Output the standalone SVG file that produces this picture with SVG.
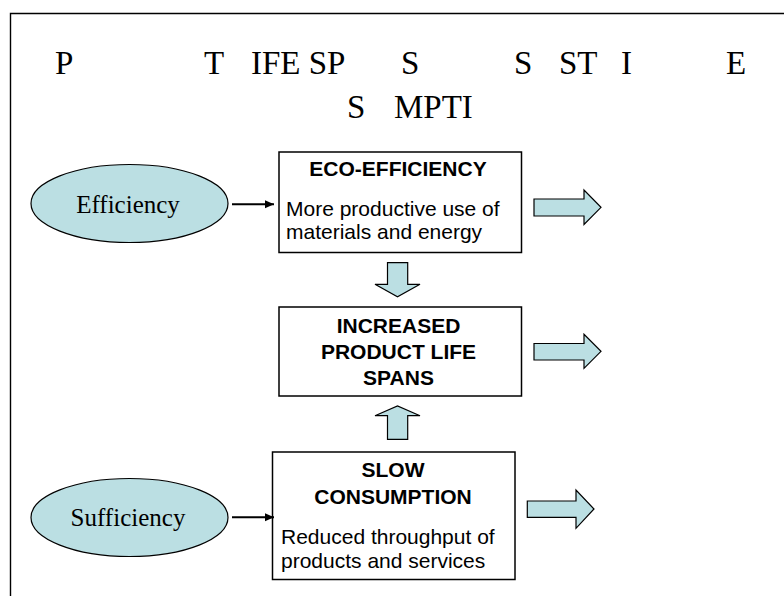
<svg xmlns="http://www.w3.org/2000/svg" width="784" height="596" viewBox="0 0 784 596">
<style>
.serif{font-family:"Liberation Serif","Times New Roman",serif;fill:#000}
.sans{font-family:"Liberation Sans",Arial,sans-serif;fill:#000}
.title{font-size:33px}
.oval{fill:#BBDFE3;stroke:#000;stroke-width:1.2}
.box{fill:#fff;stroke:#000;stroke-width:1.5}
.blk{fill:#BBDFE3;stroke:#000;stroke-width:1.2;stroke-linejoin:miter}
.hd{font-size:21px;font-weight:bold;text-anchor:middle}
.bd{font-size:21px}
.ov{font-size:25px;text-anchor:middle}
.conn{stroke:#000;stroke-width:2;fill:none}
</style>
<defs>
<marker id="ah" markerWidth="10" markerHeight="10" refX="9" refY="5" orient="auto" markerUnits="userSpaceOnUse">
<path d="M0,1 L9,5 L0,9 Z" fill="#000"/>
</marker>
</defs>
<rect width="784" height="596" fill="#fff"/>
<path d="M10.5,596 V13.5 H784" fill="none" stroke="#000" stroke-width="1.4"/>
<g id="title" class="serif title">
<text x="55" y="74">P</text>
<text x="204" y="74">T</text>
<text x="251" y="74">IFE SP</text>
<text x="401" y="74">S</text>
<text x="514" y="74">S</text>
<text x="559" y="74">ST</text>
<text x="621" y="74">I</text>
<text x="726" y="74">E</text>
<text x="347" y="118">S</text>
<text x="394" y="118">MPTI</text>
</g>
<g id="efficiency">
<ellipse class="oval" cx="129.5" cy="203.5" rx="98.5" ry="39"/>
<text class="serif ov" x="128" y="213">Efficiency</text>
</g>
<g id="sufficiency">
<ellipse class="oval" cx="129.5" cy="517.5" rx="98.5" ry="39"/>
<text class="serif ov" x="128" y="526">Sufficiency</text>
</g>
<g id="eco-efficiency">
<rect class="box" x="279" y="152" width="242.5" height="100.5"/>
<text class="sans hd" x="398" y="175.5">ECO-EFFICIENCY</text>
<text class="sans bd" x="286" y="216">More productive use of</text>
<text class="sans bd" x="286" y="239">materials and energy</text>
</g>
<g id="increased-life-spans">
<rect class="box" x="279" y="307" width="242.5" height="89"/>
<text class="sans hd" x="398.5" y="333">INCREASED</text>
<text class="sans hd" x="398.5" y="359">PRODUCT LIFE</text>
<text class="sans hd" x="398.5" y="385">SPANS</text>
</g>
<g id="slow-consumption">
<rect class="box" x="272.5" y="452" width="242.5" height="127.5"/>
<text class="sans hd" x="393" y="477">SLOW</text>
<text class="sans hd" x="393" y="503.5">CONSUMPTION</text>
<text class="sans bd" x="281" y="543.5">Reduced throughput of</text>
<text class="sans bd" x="281" y="568">products and services</text>
</g>
<g id="connectors">
<line class="conn" x1="232" y1="204.3" x2="274" y2="204.3" marker-end="url(#ah)"/>
<line class="conn" x1="232" y1="517.3" x2="274" y2="517.3" marker-end="url(#ah)"/>
<polygon class="blk" points="387.5,262.7 407.7,262.7 407.7,284.3 420,284.3 397.5,296.7 375,284.3 387.5,284.3"/>
<polygon class="blk" points="387.5,439.3 407.7,439.3 407.7,415.7 420,415.7 397.5,406 375,415.7 387.5,415.7"/>
<polygon class="blk" points="534,199 584,199 584,190 601,207.3 584,224.5 584,216 534,216"/>
<polygon class="blk" points="534,343.5 584,343.5 584,334.3 601,351.3 584,368.3 584,360 534,360"/>
<polygon class="blk" points="527.3,501 576,501 576,490 594,509 576,528.3 576,517.3 527.3,517.3"/>
</g>
</svg>
